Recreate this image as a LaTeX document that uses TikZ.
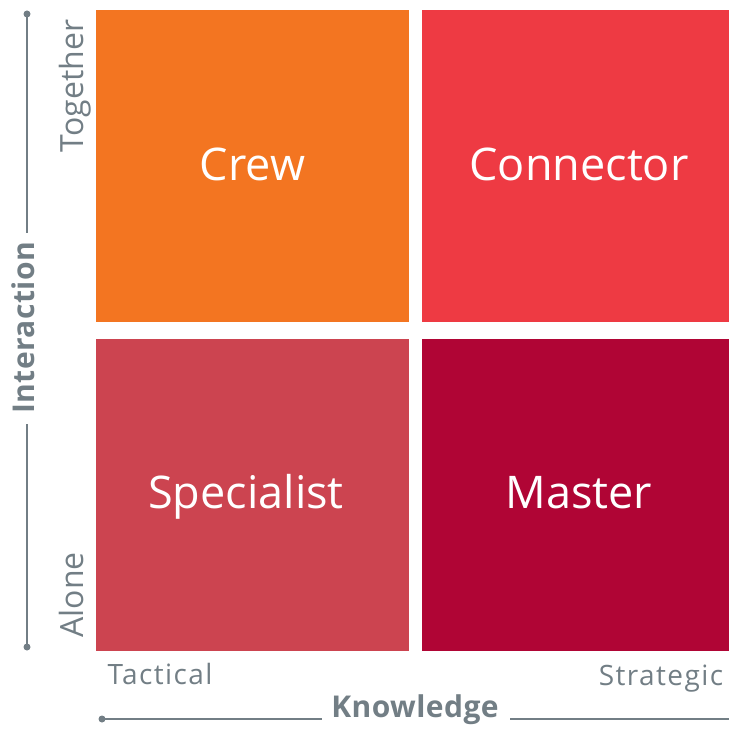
\documentclass[tikz,border=0pt]{standalone}
\usepackage{fontspec}
\setmainfont{Open Sans}
\definecolor{qorange}{HTML}{F37521}
\definecolor{qred}{HTML}{EE3A43}
\definecolor{qpink}{HTML}{CC4450}
\definecolor{qcrimson}{HTML}{B00535}
\definecolor{axisgray}{HTML}{727E85}
\tikzset{
  quad/.style={inner sep=0pt, anchor=base, text=white, font=\fontsize{45}{50}\selectfont},
  axisline/.style={draw=axisgray, line width=1.6pt},
  axisdot/.style={circle, fill=axisgray, inner sep=0pt, minimum size=7pt},
  hlabel/.style={text=axisgray, anchor=base, font=\fontsize{28}{32}\selectfont\addfontfeature{LetterSpace=5}, inner sep=0pt},
  vlabel/.style={text=axisgray, anchor=base, rotate=90, font=\fontsize{32}{36}\selectfont, inner sep=0pt},
  axistitle/.style={text=axisgray, anchor=base, font=\bfseries\fontsize{30}{34}\selectfont\addfontfeature{LetterSpace=1.5}, inner sep=0pt},
}
\begin{document}
\begin{tikzpicture}[x=1pt,y=-1pt]
\useasboundingbox (0,0) rectangle (729,733);
% quadrants
\fill[qorange] (96,10) rectangle (409,322);
\fill[qred] (422,10) rectangle (729,322);
\fill[qpink] (96,339) rectangle (409,651);
\fill[qcrimson] (422,339) rectangle (729,651);
\node[quad] (crew) at (252.5,180) {Crew};
\node[quad] (connector) at (579,180) {Connector};
\node[quad] (specialist) at (246,508) {Specialist};
\node[quad] (master) at (579,508) {Master};
% vertical axis
\node[axisdot] (vtop) at (27,14) {};
\node[axisdot] (vbot) at (27,647) {};
\node[axistitle, rotate=90] (interaction) at (34,328) {Interaction};
\coordinate (vgap1) at (27,233);
\coordinate (vgap2) at (27,424);
\draw[axisline] (vtop.center) -- (vgap1);
\draw[axisline] (vgap2) -- (vbot.center);
\node[vlabel] (together) at (83,86) {Together};
\node[vlabel] (alone) at (83,595) {Alone};
% horizontal axis
\node[axisdot] (hleft) at (102,719) {};
\coordinate (hright) at (729,719);
\node[axistitle] (knowledge) at (415,717) {Knowledge};
\coordinate (hgap1) at (322,719);
\coordinate (hgap2) at (510,719);
\draw[axisline] (hleft.center) -- (hgap1);
\draw[axisline] (hgap2) -- (hright);
\node[hlabel] (tactical) at (160,684) {Tactical};
\node[hlabel] (strategic) at (661,685) {Strategic};
\end{tikzpicture}
\end{document}
